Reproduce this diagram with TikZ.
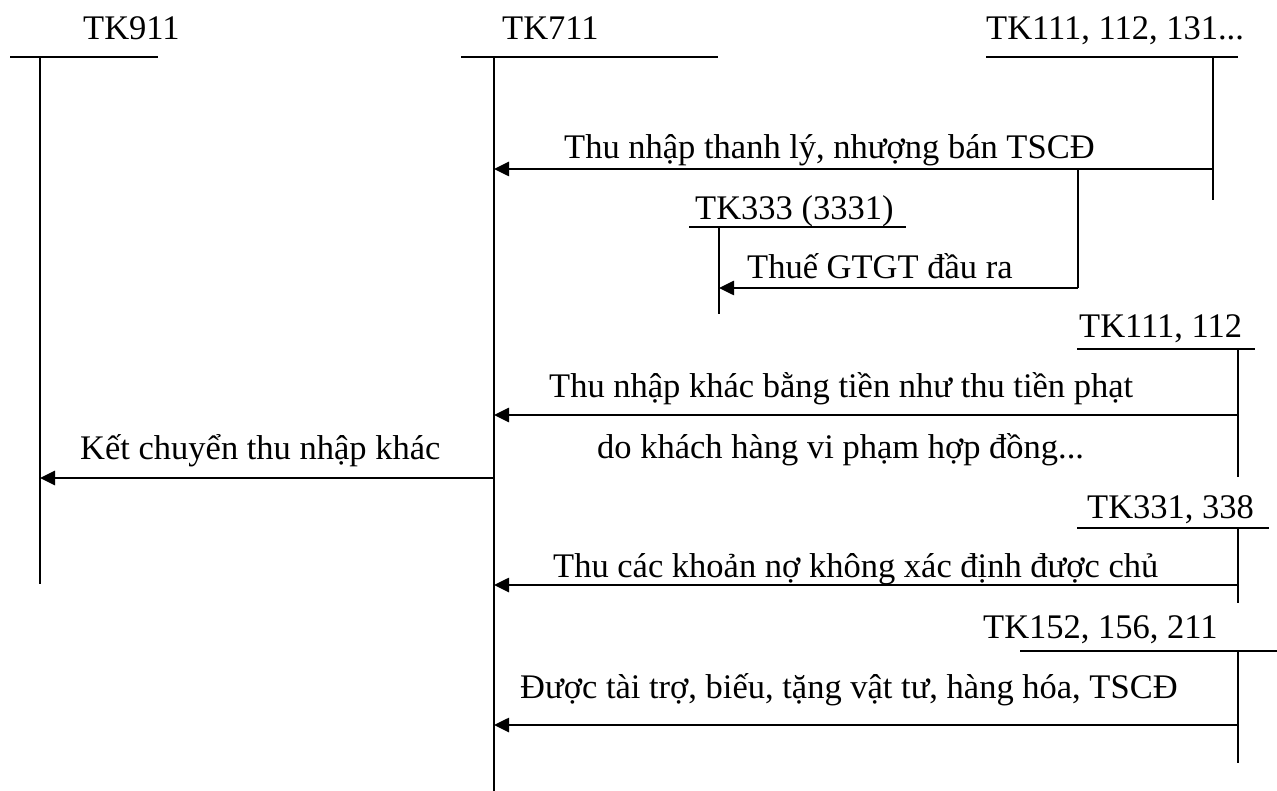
\documentclass[tikz,border=0pt]{standalone}
\usepackage{fontspec}
\setmainfont{Liberation Serif}
\usetikzlibrary{arrows.meta}
\tikzset{
  lbl/.style={font=\fontsize{34.5}{40}\selectfont, inner sep=0pt, anchor=base west},
  head/.style={line width=2.4pt},
  acc/.style={line width=1.8pt},
  flow/.style={line width=2.6pt, -{Triangle[length=15pt,width=14pt]}},
}
\begin{document}
\begin{tikzpicture}[x=1pt,y=-1pt]
\useasboundingbox (0,0) rectangle (1277,791);

% ---- account T heads ----
\node[lbl] (t911) at (83,40) {TK911};
\coordinate (t911l) at (10,57);   \coordinate (t911r) at (158,57);
\coordinate (v911t) at (40,57);   \coordinate (v911b) at (40,584);

\node[lbl] (t711) at (502,40) {TK711};
\coordinate (t711l) at (461,57);  \coordinate (t711r) at (718,57);
\coordinate (v711t) at (494,57);  \coordinate (v711b) at (494,791);

\node[lbl] (t111a) at (986,40) {TK111, 112, 131...};
\coordinate (t111al) at (986,57); \coordinate (t111ar) at (1238,57);
\coordinate (v111at) at (1213,57); \coordinate (v111ab) at (1213,200);

\node[lbl] (t333) at (695,220) {TK333 (3331)};
\coordinate (t333l) at (689,227); \coordinate (t333r) at (906,227);
\coordinate (v333t) at (719,227); \coordinate (v333b) at (719,314);

\node[lbl] (t111b) at (1079,338) {TK111, 112};
\coordinate (t111bl) at (1077,349); \coordinate (t111br) at (1255,349);
\coordinate (v111bt) at (1238,349); \coordinate (v111bb) at (1238,477);

\node[lbl] (t331) at (1087,518) {TK331, 338};
\coordinate (t331l) at (1077,528); \coordinate (t331r) at (1269,528);
\coordinate (v331t) at (1238,528); \coordinate (v331b) at (1238,603);

\node[lbl] (t152) at (983,638) {TK152, 156, 211};
\coordinate (t152l) at (1020,651); \coordinate (t152r) at (1277,651);
\coordinate (v152t) at (1238,651); \coordinate (v152b) at (1238,763);

\foreach \a in {911,711,111a,333,111b,331,152}{
  \draw[head] (t\a l) -- (t\a r);
  \draw[acc] (v\a t) -- (v\a b);
}

% ---- flows ----
\coordinate (s1) at (1213,169); \coordinate (e1) at (494,169);
\draw[flow] (s1) -- (e1);
\node[lbl] (l1) at (564,159) {Thu nhập thanh lý, nhượng bán TSCĐ};

\coordinate (b1) at (1078,169); \coordinate (k1) at (1078,288); \coordinate (e2) at (719,288);
\draw[acc] (b1) -- (k1);
\draw[flow] (k1) -- (e2);
\node[lbl] (l2) at (747,279) {Thuế GTGT đầu ra};

\coordinate (s3) at (1238,415); \coordinate (e3) at (494,415);
\draw[flow] (s3) -- (e3);
\node[lbl] (l3a) at (549,398) {Thu nhập khác bằng tiền như thu tiền phạt};
\node[lbl] (l3b) at (597,458) {do khách hàng vi phạm hợp đồng...};

\coordinate (s4) at (494,478); \coordinate (e4) at (40,478);
\draw[flow] (s4) -- (e4);
\node[lbl] (l4) at (80,459) {Kết chuyển thu nhập khác};

\coordinate (s5) at (1238,585); \coordinate (e5) at (494,585);
\draw[flow] (s5) -- (e5);
\node[lbl] (l5) at (553,577) {Thu các khoản nợ không xác định được chủ};

\coordinate (s6) at (1238,725); \coordinate (e6) at (494,725);
\draw[flow] (s6) -- (e6);
\node[lbl] (l6) at (520,698) {Được tài trợ, biếu, tặng vật tư, hàng hóa, TSCĐ};
\end{tikzpicture}
\end{document}
